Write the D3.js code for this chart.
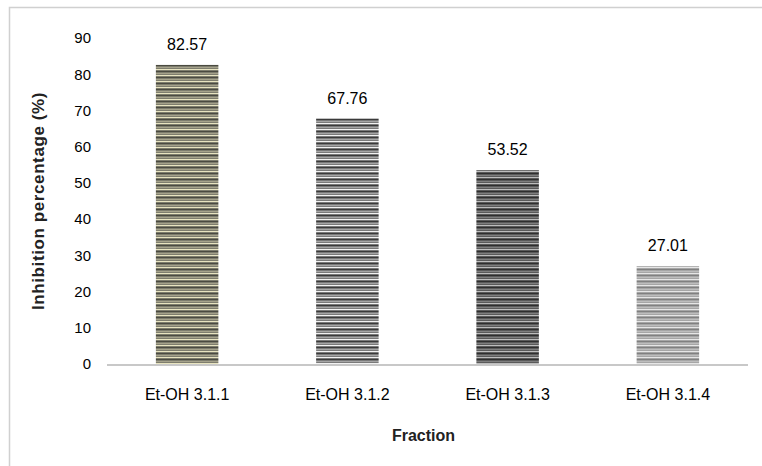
<!DOCTYPE html>
<html>
<head>
<meta charset="utf-8">
<script src="https://cdn.jsdelivr.net/npm/d3@7"></script>
<style>
  body { margin: 0; background: #fff; }
  svg { display: block; font-family: "Liberation Sans", Arial, sans-serif; }
</style>
</head>
<body>
<svg id="chart" width="762" height="466"></svg>
<script>
// Chart data
const fractions = ["Et-OH 3.1.1", "Et-OH 3.1.2", "Et-OH 3.1.3", "Et-OH 3.1.4"];
const inhibition = [82.57, 67.76, 53.52, 27.01];
const yTicks = [0, 10, 20, 30, 40, 50, 60, 70, 80, 90];

// stripe colours per bar: [base, light stripe, dark stripe]
const stripeColours = [
    ["#7e7d6e", "#e8e4c0", "#4a4a40"],
    ["#7a7a7a", "#f2f2f2", "#3a3a3a"],
    ["#5a5a5a", "#bdbdbd", "#2e2e2e"],
    ["#a6a6a6", "#e6e6e6", "#808080"]
];

const svg = d3.select("#chart");
const margin = { top: 38, right: 14, bottom: 102, left: 107 };
const width = 762, height = 466;
const chartW = width - margin.left - margin.right;
const chartH = height - margin.top - margin.bottom;

// outer frame
svg.append("rect")
    .attr("x", 9.5).attr("y", 7.5)
    .attr("width", 760).attr("height", 470)
    .attr("fill", "none")
    .attr("stroke", "#d0d0d0")
    .attr("stroke-width", 1.5);

// stripe patterns
const defs = svg.append("defs");
stripeColours.forEach((c, i) => {
    const p = defs.append("pattern")
        .attr("id", "stripe" + i)
        .attr("patternUnits", "userSpaceOnUse")
        .attr("width", 8).attr("height", 6);
    p.append("rect").attr("width", 8).attr("height", 6).attr("fill", c[0]);
    p.append("rect").attr("y", 1).attr("width", 8).attr("height", 1).attr("fill", c[1]);
    p.append("rect").attr("y", 3).attr("width", 8).attr("height", 1).attr("fill", c[2]);
    p.append("rect").attr("y", 5).attr("width", 8).attr("height", 0.6).attr("fill", c[1]).attr("opacity", 0.6);
});

const g = svg.append("g")
    .attr("transform", `translate(${margin.left},${margin.top})`);

const x = d3.scaleBand()
    .domain(fractions)
    .range([0, chartW])
    .paddingInner(0.61)
    .paddingOuter(0.305);

const y = d3.scaleLinear()
    .domain([0, 90])
    .range([chartH, 0]);

// bars
g.selectAll(".bar")
    .data(fractions)
    .enter()
    .append("rect")
    .attr("class", "bar")
    .attr("x", d => x(d))
    .attr("width", x.bandwidth())
    .attr("y", (d, i) => y(inhibition[i]))
    .attr("height", (d, i) => chartH - y(inhibition[i]))
    .attr("fill", (d, i) => `url(#stripe${i})`);

// value labels
g.selectAll(".val")
    .data(fractions)
    .enter()
    .append("text")
    .attr("x", d => x(d) + x.bandwidth() / 2)
    .attr("y", (d, i) => y(inhibition[i]) - 15)
    .attr("text-anchor", "middle")
    .attr("font-size", 16)
    .attr("fill", "#000")
    .text((d, i) => inhibition[i].toFixed(2));

// baseline
g.append("line")
    .attr("x1", 0).attr("x2", chartW)
    .attr("y1", chartH + 1).attr("y2", chartH + 1)
    .attr("stroke", "#c8c8c8")
    .attr("stroke-width", 2);

// y axis
const yAxis = g.append("g")
    .call(d3.axisLeft(y).tickValues(yTicks).tickSize(0).tickPadding(16));
yAxis.select(".domain").remove();
yAxis.selectAll("text")
    .attr("font-size", 15)
    .attr("font-family", "Liberation Sans, Arial, sans-serif")
    .attr("fill", "#000");

// x axis labels
const xAxis = g.append("g")
    .attr("transform", `translate(0,${chartH})`)
    .call(d3.axisBottom(x).tickSize(0).tickPadding(25));
xAxis.select(".domain").remove();
xAxis.selectAll("text")
    .attr("font-size", 16)
    .attr("font-family", "Liberation Sans, Arial, sans-serif")
    .attr("fill", "#000");

// axis titles
g.append("text")
    .text("Fraction")
    .attr("x", chartW / 2 - 4)
    .attr("y", chartH + 77)
    .attr("text-anchor", "middle")
    .attr("font-size", 16)
    .attr("font-weight", "bold")
    .attr("fill", "#222");

g.append("text")
    .text("Inhibition percentage (%)")
    .attr("transform", "rotate(-90)")
    .attr("x", -chartH / 2)
    .attr("y", -63)
    .attr("text-anchor", "middle")
    .attr("font-size", 17)
    .attr("letter-spacing", 0.6)
    .attr("font-weight", "bold")
    .attr("fill", "#222");
</script>
</body>
</html>
